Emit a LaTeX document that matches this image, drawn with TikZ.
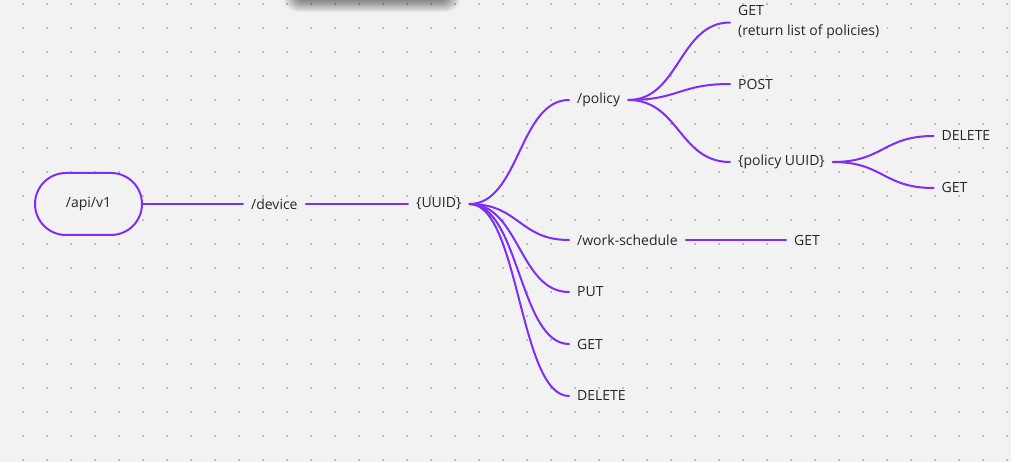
\documentclass[tikz,border=0pt]{standalone}
\usepackage{fontspec}
\setmainfont{Open Sans}
\usetikzlibrary{calc}
\definecolor{bgc}{HTML}{F2F2F2}
\definecolor{dotc}{HTML}{BDBDBD}
\definecolor{linec}{HTML}{7B2FF7}
\definecolor{txtc}{HTML}{262626}
\begin{document}
\begin{tikzpicture}[x=1pt,y=-1pt,
  lbl/.style={anchor=west,fill=bgc,inner xsep=8pt,inner ysep=0pt,text=txtc,font=\fontsize{14}{20}\selectfont,align=left},
  pill/.style={draw=linec,fill=bgc,line width=2pt,rounded corners=31pt,minimum width=107pt,minimum height=62pt,inner sep=0pt,text=txtc,font=\fontsize{14}{20}\selectfont},
  conn/.style={draw=linec,line width=2pt,line cap=round},
  branch/.style={conn,to path={let \p1=(\tikztostart), \p2=(\tikztotarget) in .. controls ({0.5*\x1+0.5*\x2},\y1) and ({0.5*\x1+0.5*\x2},\y2) .. (\tikztotarget) \tikztonodes}}]
\fill[bgc] (0,0) rectangle (1011,462);
\useasboundingbox (0,0) rectangle (1011,462);
% dot grid
\foreach \i in {0,...,41}{
  \foreach \j in {0,...,19}{
    \fill[dotc] ({22.5+24*\i-1},{4+24*\j-1}) rectangle ++(2,2);
  }
}
% soft shadow at top
\foreach \k in {0,...,11}{
  \fill[black,opacity=0.045,rounded corners={6pt+\k pt}] ({298-1.4*\k},-24) rectangle ({446+1.4*\k},{1+1.0*\k});
}
% nodes
\node[pill] (api) at (88.5,204) {/api/v1};
\node[lbl] (device) at (243,204) {/device};
\node[lbl] (uuid) at (408,204) {\{UUID\}};
\node[lbl] (policy) at (569,100) {/policy};
\node[lbl] (ws) at (569,240) {/work-schedule};
\node[lbl] (put) at (569,292) {PUT};
\node[lbl] (get) at (569,344) {GET};
\node[lbl] (del) at (569,396) {DELETE};
\node[lbl] (wsget) at (786,240) {GET};
\node[lbl] (pget) at (730,22.5) {GET\\(return list of policies)};
\node[lbl] (post) at (730,84) {POST};
\node[lbl] (puuid) at (730,162) {\{policy UUID\}};
\node[lbl] (pdel) at (933.5,136) {DELETE};
\node[lbl] (pget2) at (933.5,188) {GET};
% connectors
\draw[conn] (api.east) -- (device.west);
\draw[conn] (device.east) -- (uuid.west);
\draw[conn] (ws.east) -- (wsget.west);
\foreach \t in {policy,ws,put,get,del}{
  \draw[branch] (uuid.east) to (\t.west);
}
\foreach \t in {pget,post,puuid}{
  \draw[branch] (policy.east) to (\t.west);
}
\foreach \t in {pdel,pget2}{
  \draw[branch] (puuid.east) to (\t.west);
}
\end{tikzpicture}
\end{document}
